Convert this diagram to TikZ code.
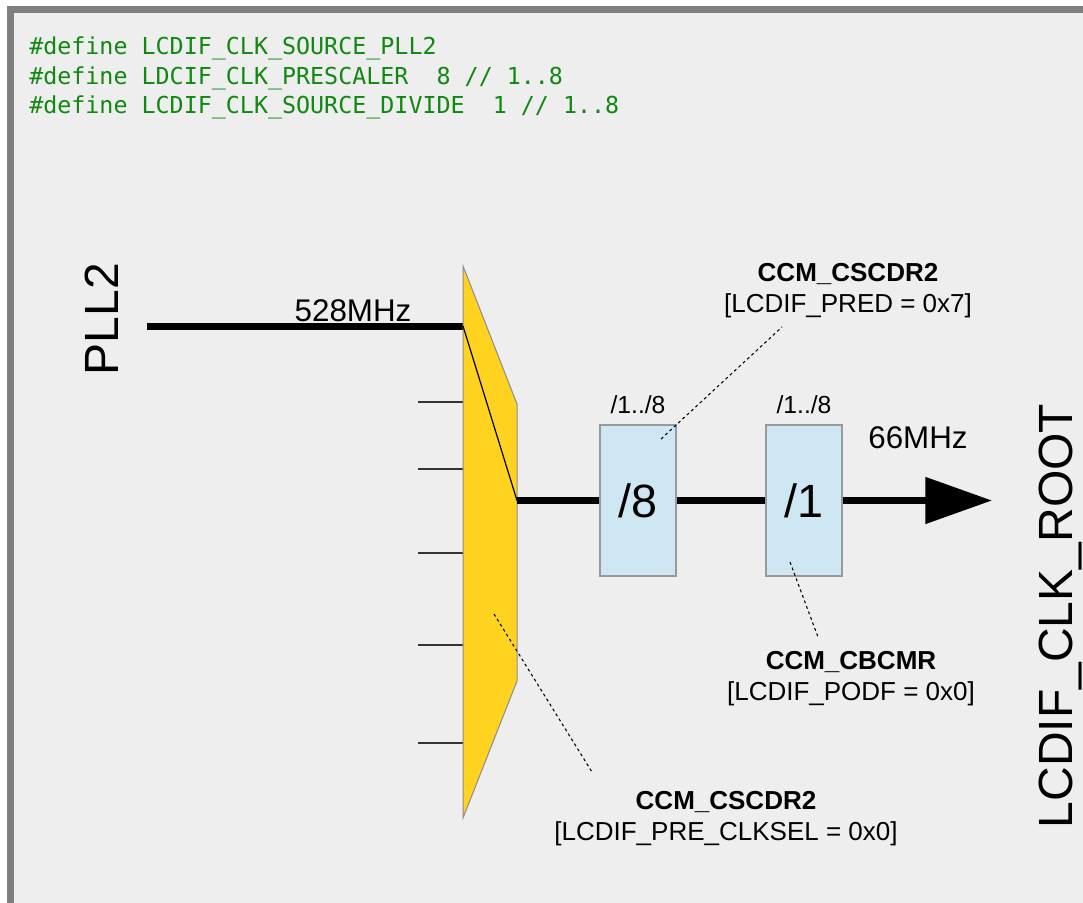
\documentclass[tikz,border=0pt]{standalone}
\usepackage{fontspec}
\setmainfont{Liberation Sans}
\setmonofont{DejaVu Sans Mono}
\usepackage{tikz}
\usetikzlibrary{arrows.meta, positioning}
\definecolor{panelbg}{HTML}{EEEEEE}
\definecolor{panelframe}{HTML}{7F7F7F}
\definecolor{codegreen}{HTML}{118811}
\definecolor{muxyellow}{HTML}{FFD320}
\definecolor{divblue}{HTML}{CFE6F3}

\begin{document}
\begin{tikzpicture}[x=0.75pt, y=-0.75pt,
  clkline/.style={line width=5.25pt},
  thinline/.style={line width=0.9pt},
  callout/.style={line width=0.8pt, dash pattern=on 2.2pt off 2.2pt},
  divbox/.style={draw=black!40, line width=1pt, fill=divblue, minimum width=57pt, minimum height=113.25pt, inner sep=0pt, font=\fontsize{35pt}{35pt}\selectfont},
  codetxt/.style={anchor=base west, inner sep=0pt, text=codegreen, font=\ttfamily\fontsize{17.5pt}{21pt}\selectfont},
  bigtxt/.style={font=\fontsize{36pt}{36pt}\selectfont, inner sep=0pt},
  freqtxt/.style={font=\fontsize{23.5pt}{24pt}\selectfont, inner sep=0pt, anchor=base},
  rangetxt/.style={font=\fontsize{18.5pt}{19pt}\selectfont, inner sep=0pt},
  regtxt/.style={font=\fontsize{19.5pt}{23.25pt}\selectfont, align=center, inner sep=0pt}]
\useasboundingbox (0,0) rectangle (1083,903);
\clip (0,0) rectangle (1083,903);
% Panel
\fill[white] (0,0) rectangle (1083,903);
\draw[panelframe, line width=5.25pt, fill=panelbg] (10,9) rectangle (1120,940);
% Register defines
\node[codetxt] (def1) at (29,54.5) {\#define LCDIF\_CLK\_SOURCE\_PLL2};
\node[codetxt] (def2) at (29,84) {\#define LDCIF\_CLK\_PRESCALER~~8 // 1..8};
\node[codetxt] (def3) at (29,113.5) {\#define LCDIF\_CLK\_SOURCE\_DIVIDE~~1 // 1..8};
% Clock source
\node[bigtxt, rotate=90, anchor=base] (pll) at (118,319) {PLL2};
\coordinate (pllsrc) at (147,326);
\coordinate (muxin) at (463,326);
\coordinate (muxout) at (517,500.5);
\draw[clkline] (pllsrc) -- (muxin);
\node[freqtxt] (fin) at (353,321) {528MHz};
% Mux
\foreach \y in {402,469,553,645,743} {
  \draw[black!80, line width=0.8pt] (418,\y) -- (463,\y);
}
\fill[muxyellow, draw=black!45, line width=0.75pt] (463,266) -- (517,404) -- (517,681) -- (463,818) -- cycle;
\draw[thinline] (muxin) -- (muxout);
% Dividers
\node[divbox] (div1) at (638,500.5) {/8};
\node[divbox] (div2) at (804,500.5) {/1};
\node[rangetxt, above=8pt of div1] (rng1) {/1../8};
\node[rangetxt, above=8pt of div2] (rng2) {/1../8};
\coordinate (rootout) at (992,500.5);
\draw[clkline] (muxout) -- (div1);
\draw[clkline] (div1) -- (div2);
\draw[clkline, -{Triangle[length=50pt, width=34pt]}] (div2) -- (rootout);
\node[freqtxt] (fout) at (918,448) {66MHz};
\node[bigtxt, rotate=90, anchor=base] (root) at (1072,616) {LCDIF\_CLK\_ROOT};
% Register callouts
\node[regtxt] (reg1) at (848,291) {\textbf{CCM\_CSCDR2}\\{[}LCDIF\_PRED = 0x7{]}};
\node[regtxt] (reg2) at (851,679) {\textbf{CCM\_CBCMR}\\{[}LCDIF\_PODF = 0x0{]}};
\node[regtxt] (reg3) at (726,819) {\textbf{CCM\_CSCDR2}\\{[}LCDIF\_PRE\_CLKSEL = 0x0{]}};
\coordinate (c1a) at (661,439);
\coordinate (c1b) at (782,327);
\coordinate (c2a) at (790,562);
\coordinate (c2b) at (818,637);
\coordinate (c3a) at (494,614);
\coordinate (c3b) at (592,772);
\draw[callout] (c1a) -- (c1b);
\draw[callout] (c2a) -- (c2b);
\draw[callout] (c3a) -- (c3b);
\end{tikzpicture}
\end{document}
